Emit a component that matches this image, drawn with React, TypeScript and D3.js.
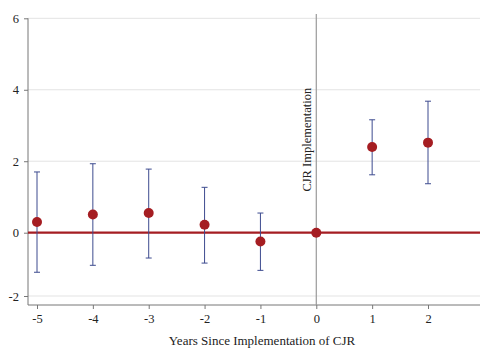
import { useRef, useEffect } from 'react'
import { select, scaleLinear, axisBottom, axisLeft } from 'd3'

// event-study estimates, years relative to CJR implementation
const years = [-5, -4, -3, -2, -1, 0, 1, 2]
const estimates = [0.3, 0.51, 0.55, 0.22, -0.28, 0, 2.4, 2.52]
const upper = [1.7, 1.93, 1.78, 1.27, 0.55, 0, 3.16, 3.68]
const lower = [-1.25, -1.03, -0.8, -0.96, -1.19, 0, 1.62, 1.37]
const xTicks = [-5, -4, -3, -2, -1, 0, 1, 2]
const yTicks = [-2, 0, 2, 4, 6]

const xAxisLabel = 'Years Since Implementation of CJR'
const eventLabel = 'CJR Implementation'

const App = () => {
  const svgRef = useRef(null)

  useEffect(() => {
    const svg = select(svgRef.current)
    svg.selectAll('*').remove()

    const width = 480
    const font = '"Liberation Serif", "DejaVu Serif", serif'

    const plotLeft = 28
    const plotBottom = 305
    const plotTop = 14

    const xScale = scaleLinear().domain([-5, 2]).range([37, 428])
    // the picture's lower segment is a bit tighter than the upper one
    const yScale = scaleLinear().domain([-2, 0, 6]).range([296, 232.7, 18.3])

    const g = svg.append('g')

    // gridlines
    g.append('g')
      .selectAll('line')
      .data(yTicks)
      .join('line')
      .attr('x1', plotLeft)
      .attr('x2', width)
      .attr('y1', (d) => yScale(d))
      .attr('y2', (d) => yScale(d))
      .attr('stroke', '#e3e3e3')
      .attr('stroke-width', 1)

    // y axis
    const yAxis = axisLeft(yScale)
      .tickValues(yTicks)
      .tickSize(4)
      .tickPadding(5)
      .tickFormat((d) => String(d))
    const yAxisGroup = g
      .append('g')
      .attr('transform', `translate(${plotLeft},0)`)
      .call(yAxis)
      .attr('font-family', font)
      .attr('font-size', 12.5)
    yAxisGroup.select('.domain').remove()
    yAxisGroup.selectAll('text').style('font-family', font).attr('fill', '#222')

    g.append('line')
      .attr('x1', plotLeft)
      .attr('x2', plotLeft)
      .attr('y1', yScale(6))
      .attr('y2', plotBottom)
      .attr('stroke', '#777')

    // x axis
    const xAxis = axisBottom(xScale)
      .tickValues(xTicks)
      .tickSize(4)
      .tickPadding(5)
      .tickFormat((d) => String(d))
    const xAxisGroup = g
      .append('g')
      .attr('transform', `translate(0,${plotBottom})`)
      .call(xAxis)
      .attr('font-family', font)
      .attr('font-size', 12.5)
    xAxisGroup.select('.domain').remove()
    xAxisGroup.selectAll('text').style('font-family', font).attr('fill', '#222')

    g.append('line')
      .attr('x1', plotLeft)
      .attr('x2', width)
      .attr('y1', plotBottom)
      .attr('y2', plotBottom)
      .attr('stroke', '#777')

    g.selectAll('.tick line').attr('stroke', '#777')

    g.append('text')
      .text(xAxisLabel)
      .attr('x', 262)
      .attr('y', 345)
      .attr('text-anchor', 'middle')
      .attr('font-family', font)
      .attr('font-size', 13)
      .attr('fill', '#222')

    // event line
    g.append('line')
      .attr('x1', xScale(0))
      .attr('x2', xScale(0))
      .attr('y1', plotTop)
      .attr('y2', plotBottom)
      .attr('stroke', '#999')
      .attr('stroke-width', 1.2)

    g.append('text')
      .text(eventLabel)
      .attr('transform', `translate(${xScale(0) - 5},${yScale(4) - 2}) rotate(-90)`)
      .attr('text-anchor', 'end')
      .attr('font-family', font)
      .attr('font-size', 12.5)
      .attr('fill', '#222')

    // zero line
    g.append('line')
      .attr('x1', plotLeft)
      .attr('x2', width)
      .attr('y1', yScale(0))
      .attr('y2', yScale(0))
      .attr('stroke', '#a51d22')
      .attr('stroke-width', 2.2)

    const data = years.map((year, i) => ({
      year,
      est: estimates[i],
      hi: upper[i],
      lo: lower[i],
    }))
    const withCi = data.filter((d) => d.hi !== d.lo)

    // confidence intervals
    const ci = g.append('g').attr('stroke', '#3d4b8f').attr('stroke-width', 1)
    ci.selectAll('line.bar')
      .data(withCi)
      .join('line')
      .attr('class', 'bar')
      .attr('x1', (d) => xScale(d.year))
      .attr('x2', (d) => xScale(d.year))
      .attr('y1', (d) => yScale(d.hi))
      .attr('y2', (d) => yScale(d.lo))
    ci.selectAll('line.cap-hi')
      .data(withCi)
      .join('line')
      .attr('class', 'cap-hi')
      .attr('x1', (d) => xScale(d.year) - 3)
      .attr('x2', (d) => xScale(d.year) + 3)
      .attr('y1', (d) => yScale(d.hi))
      .attr('y2', (d) => yScale(d.hi))
    ci.selectAll('line.cap-lo')
      .data(withCi)
      .join('line')
      .attr('class', 'cap-lo')
      .attr('x1', (d) => xScale(d.year) - 3)
      .attr('x2', (d) => xScale(d.year) + 3)
      .attr('y1', (d) => yScale(d.lo))
      .attr('y2', (d) => yScale(d.lo))

    // point estimates
    g.append('g')
      .selectAll('circle')
      .data(data)
      .join('circle')
      .attr('cx', (d) => xScale(d.year))
      .attr('cy', (d) => yScale(d.est))
      .attr('r', 5)
      .attr('fill', '#a51d22')
  }, [])

  return (
    <svg
      ref={svgRef}
      width={480}
      height={353}
      style={{ position: 'absolute', left: 0, top: 0, background: '#fff' }}
    ></svg>
  )
}

export default App
